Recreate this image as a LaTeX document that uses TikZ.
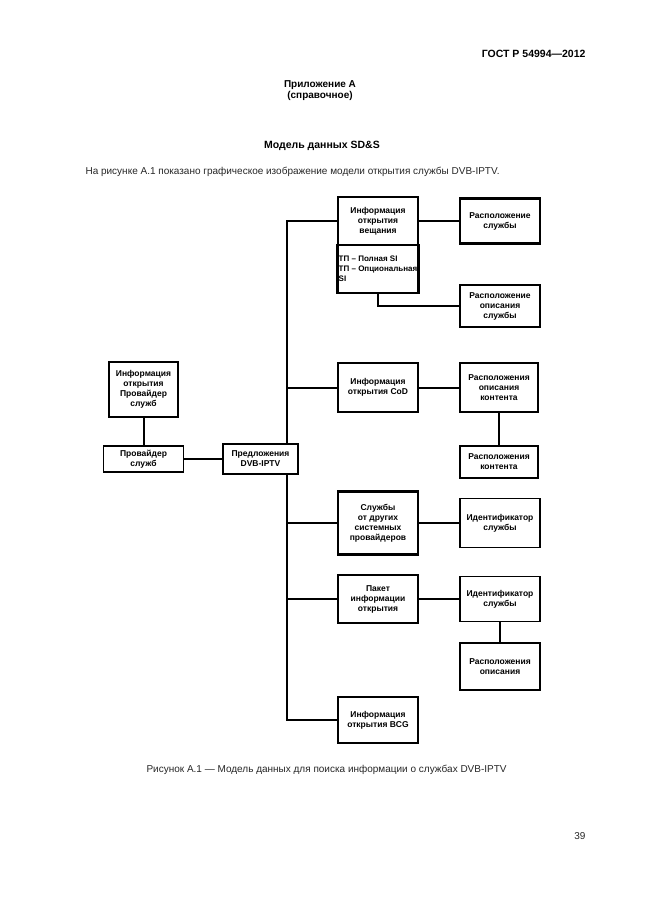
\documentclass[tikz,border=0pt]{standalone}
\usepackage{fontspec}
\setmainfont{Liberation Sans}
\begin{document}
\begin{tikzpicture}[x=1pt, y=-1pt, font=\fontsize{8.5}{10}\selectfont\bfseries,
   thick_box/.style={rectangle, draw=black, line width=2.6pt, align=center, inner sep=1pt},
   thin_box/.style={rectangle, draw=black, line width=1.5pt, align=center, inner sep=1pt},
   page_text/.style={font=\fontsize{10}{12}\selectfont, text=black!85},
   edge_style/.style={draw=black, line width=2pt},
   link_style/.style={draw=black, line width=2.8pt}]
	  \useasboundingbox (0,0) rectangle (646,913);

	  % page head
	  \node [anchor=east, font=\fontsize{10.5}{12}\selectfont\bfseries] (gost) at (589,54) {ГОСТ Р 54994—2012};
	  \node [font=\fontsize{10}{11}\selectfont\bfseries, align=center] (annex) at (320,91) {Приложение А\\(справочное)};
	  \node [font=\fontsize{10.5}{12}\selectfont\bfseries] (title) at (322,146) {Модель данных SD\&S};
	  \node [page_text, anchor=west] (intro) at (82,172) {На рисунке А.1 показано графическое изображение модели открытия службы DVB-IPTV.};

	  % boxes
	  \node [thick_box, minimum width=80pt, minimum height=48pt] (infobc) at (378,221) {Информация\\открытия\\вещания};
	  \node [thick_box, minimum width=80pt, minimum height=48pt, align=left, font=\fontsize{8}{10}\selectfont\bfseries] (tpsi) at (378,269) {ТП – Полная SI\\ТП – Опциональная\\SI};
	  \node [thick_box, minimum width=80pt, minimum height=45pt] (loc_svc) at (500,221) {Расположение\\службы};
	  \node [thin_box, minimum width=80pt, minimum height=42pt] (loc_desc_svc) at (500,306) {Расположение\\описания\\службы};
	  \node [thick_box, minimum width=69pt, minimum height=55pt] (info_prov) at (143.5,389.5) {Информация\\открытия\\Провайдер\\служб};
	  \node [thin_box, minimum width=80pt, minimum height=26pt] (prov) at (143.5,459) {Провайдер\\служб};
	  \node [thick_box, minimum width=80pt, minimum height=49pt] (cod) at (378,387.5) {Информация\\открытия CoD};
	  \node [thick_box, minimum width=78pt, minimum height=49pt] (loc_desc_cont) at (499,387.5) {Расположения\\описания\\контента};
	  \node [thin_box, minimum width=78pt, minimum height=32pt] (loc_cont) at (499,462) {Расположения\\контента};
	  \node [thick_box, minimum width=80pt, minimum height=63pt] (other) at (378,523) {Службы\\от других\\системных\\провайдеров};
	  \node [thin_box, minimum width=80pt, minimum height=49pt] (id1) at (500,523) {Идентификатор\\службы};
	  \node [thick_box, minimum width=80pt, minimum height=48pt] (pack) at (378,599) {Пакет\\информации\\открытия};
	  \node [thin_box, minimum width=80pt, minimum height=45pt] (id2) at (500,599) {Идентификатор\\службы};
	  \node [thin_box, minimum width=80pt, minimum height=47pt] (loc_desc) at (500,666.5) {Расположения\\описания};
	  \node [thick_box, minimum width=80pt, minimum height=46pt] (bcg) at (378,720) {Информация\\открытия BCG};

	  \coordinate (trunk) at (287,0);
	  \draw [edge_style] (infobc.west) -| (bcg.west -| trunk) -- (bcg.west);
	  \foreach \branch in {cod, other, pack}
	    \draw [edge_style] (\branch.west) -- (\branch.west -| trunk);
	  \draw [edge_style] (tpsi.south) |- (loc_desc_svc.west);

	  \foreach \from/\to in {infobc/loc_svc, cod/loc_desc_cont, other/id1, pack/id2, info_prov/prov}
	    %\draw (\from) -- (\to);
	    \draw [edge_style] (\from) -- (\to);
	  \foreach \from/\to in {loc_desc_cont/loc_cont, id2/loc_desc}
	    \draw [link_style] (\from) -- (\to);

	  % offer box lies over the trunk
	  \node [thick_box, fill=white, minimum width=75pt, minimum height=30pt] (offer) at (260.5,459) {Предложения\\DVB-IPTV};
	  \draw [edge_style] (prov) -- (offer);

	  % page foot
	  \node [page_text, anchor=west] (caption) at (143,770) {Рисунок А.1 — Модель данных для поиска информации о службах DVB-IPTV};
	  \node [page_text, anchor=east] (pageno) at (589,836) {39};
	\end{tikzpicture}
\end{document}
